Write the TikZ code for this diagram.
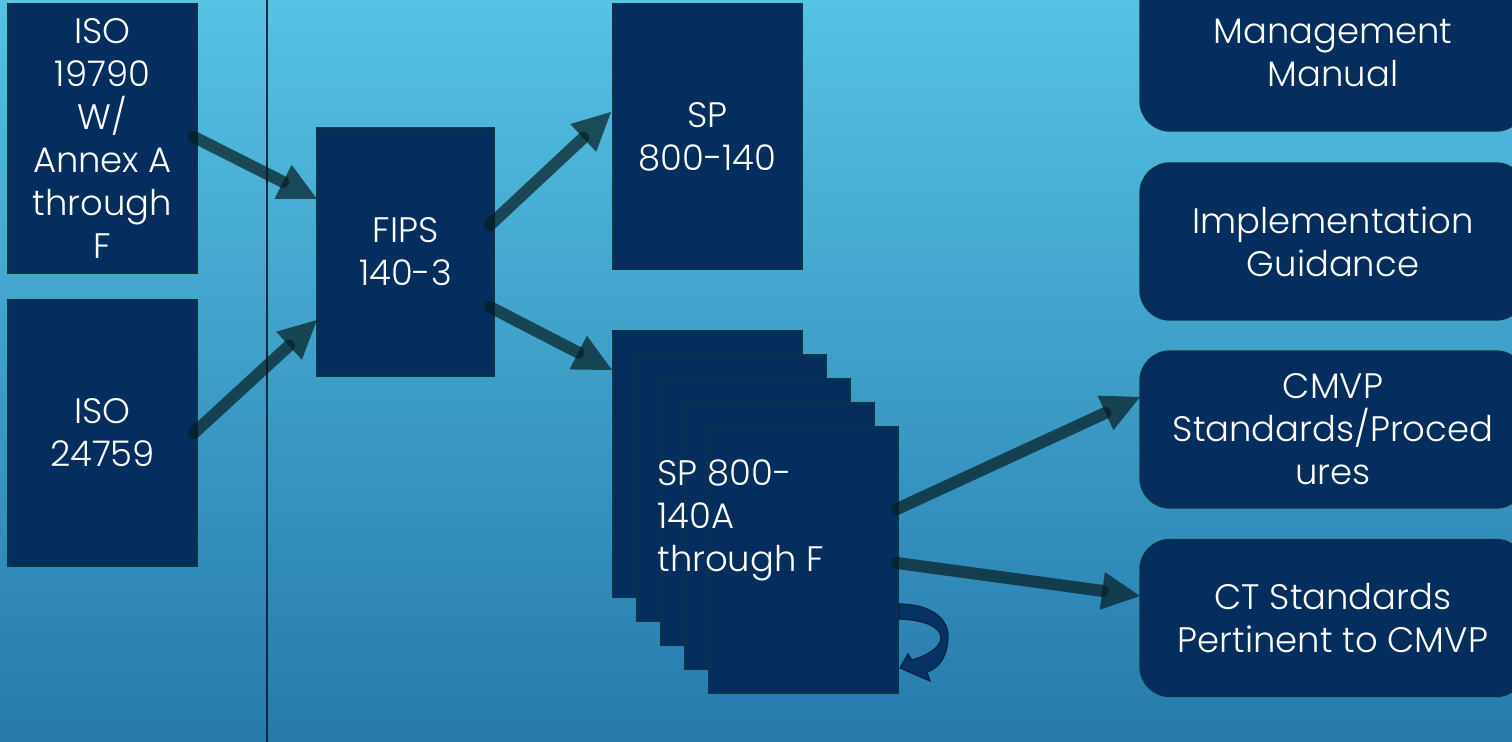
\documentclass[tikz,border=0pt]{standalone}
\usepackage{fontspec}
\IfFontExistsTF{Poppins Light}{\setmainfont{Poppins Light}}{\setmainfont{Poppins}}
\usetikzlibrary{arrows.meta}

\definecolor{bgtop}{RGB}{86,194,228}
\definecolor{bgbot}{RGB}{38,122,172}
\definecolor{boxfill}{RGB}{5,46,94}
\definecolor{boxline}{RGB}{12,52,72}
\definecolor{arrowc}{RGB}{5,30,35}
\definecolor{curlfill}{RGB}{6,50,100}
\definecolor{curlline}{RGB}{8,36,66}
\definecolor{rulec}{RGB}{10,40,62}

\tikzset{
  doc/.style={draw=boxline, line width=0.7pt, fill=boxfill, text=white,
    align=center, inner sep=0pt, font=\fontsize{17.7}{21.5}\selectfont},
  sheet/.style={doc, minimum width=94.5pt, minimum height=133pt},
  panel/.style={doc, rounded corners=15pt, minimum width=193pt, minimum height=78.5pt},
  flow/.style={draw=arrowc, fill=arrowc, opacity=0.7, line width=6pt, line cap=round,
    -{Triangle[length=19pt,width=19pt,line width=0pt]}},
  divider/.style={draw=rulec, line width=1pt},
}

\begin{document}
\begin{tikzpicture}[x=0.5pt,y=-0.5pt]
\useasboundingbox (0,0) rectangle (1512,742);
\shade[top color=bgtop, bottom color=bgbot] (0,0) rectangle (1512,742);

% vertical divider
\coordinate (divtop) at (267,0);
\coordinate (divbot) at (267,742);
\draw[divider] (divtop) -- (divbot);

% left column
\node[doc, minimum width=94.5pt, minimum height=134.5pt] (iso1) at (102.5,138.5)
  {ISO\\19790\\W/\\Annex A\\through\\F};
\node[sheet] (iso2) at (102.5,433) {ISO\\24759};

% FIPS
\node[doc, minimum width=88.5pt, minimum height=124pt] (fips) at (405.5,252) {FIPS\\140-3};

% SP 800-140
\node[doc, minimum width=94.5pt, minimum height=132.5pt] (sp) at (707.5,136.5) {SP\\800-140};

% stack of SP 800-140A..F sheets
\foreach \k in {0,...,4}
  \node[sheet] (stack\k) at ({707.5+24*\k},{464+24*\k}) {};
\node[text=white, align=left, inner sep=0pt, anchor=west,
  font=\fontsize{17.7}{21.5}\selectfont] (stacktext) at (657,520)
  {SP 800-\\140A\\through F};

% right column
\node[panel] (mgmt) at (1333,52.5) {Management\\Manual};
\node[panel] (ig) at (1333,241.5) {Implementation\\Guidance};
\node[panel] (cmvp) at (1333,429.5) {CMVP\\Standards/Proced\\ures};
\node[panel] (ct) at (1333,618) {CT Standards\\Pertinent to CMVP};

% connector end points
\coordinate (a1s) at (194,137);  \coordinate (a1e) at (317,199);
\coordinate (a2s) at (194,433);  \coordinate (a2e) at (317,320);
\coordinate (a3s) at (490,225);  \coordinate (a3e) at (611,112);
\coordinate (a4s) at (490,307);  \coordinate (a4e) at (612,370);
\coordinate (a5s) at (897,509);  \coordinate (a5e) at (1140,397);
\coordinate (a6s) at (897,563);  \coordinate (a6e) at (1140,596);

\draw[flow] (a1s) -- (a1e);
\draw[flow] (a2s) -- (a2e);
\draw[flow] (a3s) -- (a3e);
\draw[flow] (a4s) -- (a4e);
\draw[flow] (a5s) -- (a5e);
\draw[flow] (a6s) -- (a6e);

% self-referencing curled arrow
\filldraw[fill=curlfill, draw=curlline, line width=0.6pt]
  (899,604) .. controls (930,604) and (948,618) .. (948,636)
  .. controls (948,655) and (940,668) .. (927,672)
  -- (930,681) -- (900,668) -- (908,654) -- (912,660)
  .. controls (928,655) and (940,648) .. (941,638)
  .. controls (941,627) and (925,620) .. (899,619) -- cycle;
\end{tikzpicture}
\end{document}
